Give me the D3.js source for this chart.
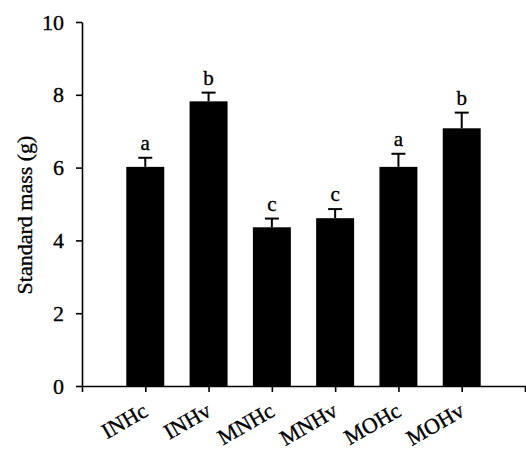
<!DOCTYPE html>
<html lang="en">
<head>
    <meta charset="UTF-8">
    <title>Standard mass</title>
    <style>
        body{ margin:0; background:#fff; }
        svg text{ font-family: "Liberation Serif", "Times New Roman", serif; fill:#000; stroke:#000; stroke-width:0.35px; }
    </style>
</head>
<body>
    <div id="chart"></div>
    <script src="https://cdn.jsdelivr.net/npm/d3@7"></script>
    <script>
        var groups = ["INHc", "INHv", "MNHc", "MNHv", "MOHc", "MOHv"];
        var means  = [6.02, 7.82, 4.36, 4.61, 6.02, 7.08];
        var errs   = [0.25, 0.24, 0.24, 0.25, 0.36, 0.43];
        var letters = ["a", "b", "c", "c", "a", "b"];
        var yTicks = [0, 2, 4, 6, 8, 10];

        var width = 526, height = 449;

        var svg = d3.select("#chart").append("svg")
            .attr("width", width)
            .attr("height", height);

        var x = d3.scalePoint()
            .domain(groups)
            .range([82, 525])
            .padding(1);

        var y = d3.scaleLinear()
            .domain([0, 10])
            .range([386, 22]);

        var barW = x.step() * 0.6;

        // bars
        svg.append("g").selectAll("rect")
            .data(groups)
            .enter()
            .append("rect")
            .attr("x", function(d){ return x(d) - barW/2; })
            .attr("y", function(d,i){ return y(means[i]); })
            .attr("width", barW)
            .attr("height", function(d,i){ return y(0) - y(means[i]); })
            .attr("fill", "#000");

        // error bars
        var eb = svg.append("g").attr("stroke", "#000").attr("stroke-width", 2);
        eb.selectAll(".v")
            .data(groups)
            .enter()
            .append("line")
            .attr("x1", function(d){ return x(d); })
            .attr("x2", function(d){ return x(d); })
            .attr("y1", function(d,i){ return y(means[i]); })
            .attr("y2", function(d,i){ return y(means[i] + errs[i]); });
        eb.selectAll(".cap")
            .data(groups)
            .enter()
            .append("line")
            .attr("x1", function(d){ return x(d) - 7; })
            .attr("x2", function(d){ return x(d) + 7; })
            .attr("y1", function(d,i){ return y(means[i] + errs[i]); })
            .attr("y2", function(d,i){ return y(means[i] + errs[i]); });

        // significance letters
        svg.append("g").selectAll("text")
            .data(groups)
            .enter()
            .append("text")
            .attr("x", function(d){ return x(d); })
            .attr("y", function(d,i){ return y(means[i] + errs[i]) - 8; })
            .attr("text-anchor", "middle")
            .attr("font-size", 21)
            .text(function(d,i){ return letters[i]; });

        // axes
        var yAxis = svg.append("g")
            .attr("transform", "translate(82,0)")
            .call(d3.axisLeft(y).tickValues(yTicks).tickSize(6).tickSizeOuter(0).tickPadding(12));
        yAxis.selectAll("text").attr("font-size", 22).attr("font-family", null);

        var xAxis = svg.append("g")
            .attr("transform", "translate(0,386)")
            .call(d3.axisBottom(x).tickSize(6).tickSizeOuter(6).tickFormat(""));

        svg.selectAll(".domain, .tick line").attr("stroke", "#000").attr("stroke-width", 1.6);

        // rotated category labels
        svg.append("g").selectAll("text")
            .data(groups)
            .enter()
            .append("text")
            .attr("transform", function(d){ return "translate(" + (x(d) + 4) + ",415) rotate(-30)"; })
            .attr("text-anchor", "end")
            .attr("font-size", 22)
            .text(function(d){ return d; });

        svg.append("text")
            .attr("transform", "translate(32,215) rotate(-90)")
            .attr("text-anchor", "middle")
            .attr("font-size", 22)
            .text("Standard mass (g)");
    </script>
</body>
</html>
